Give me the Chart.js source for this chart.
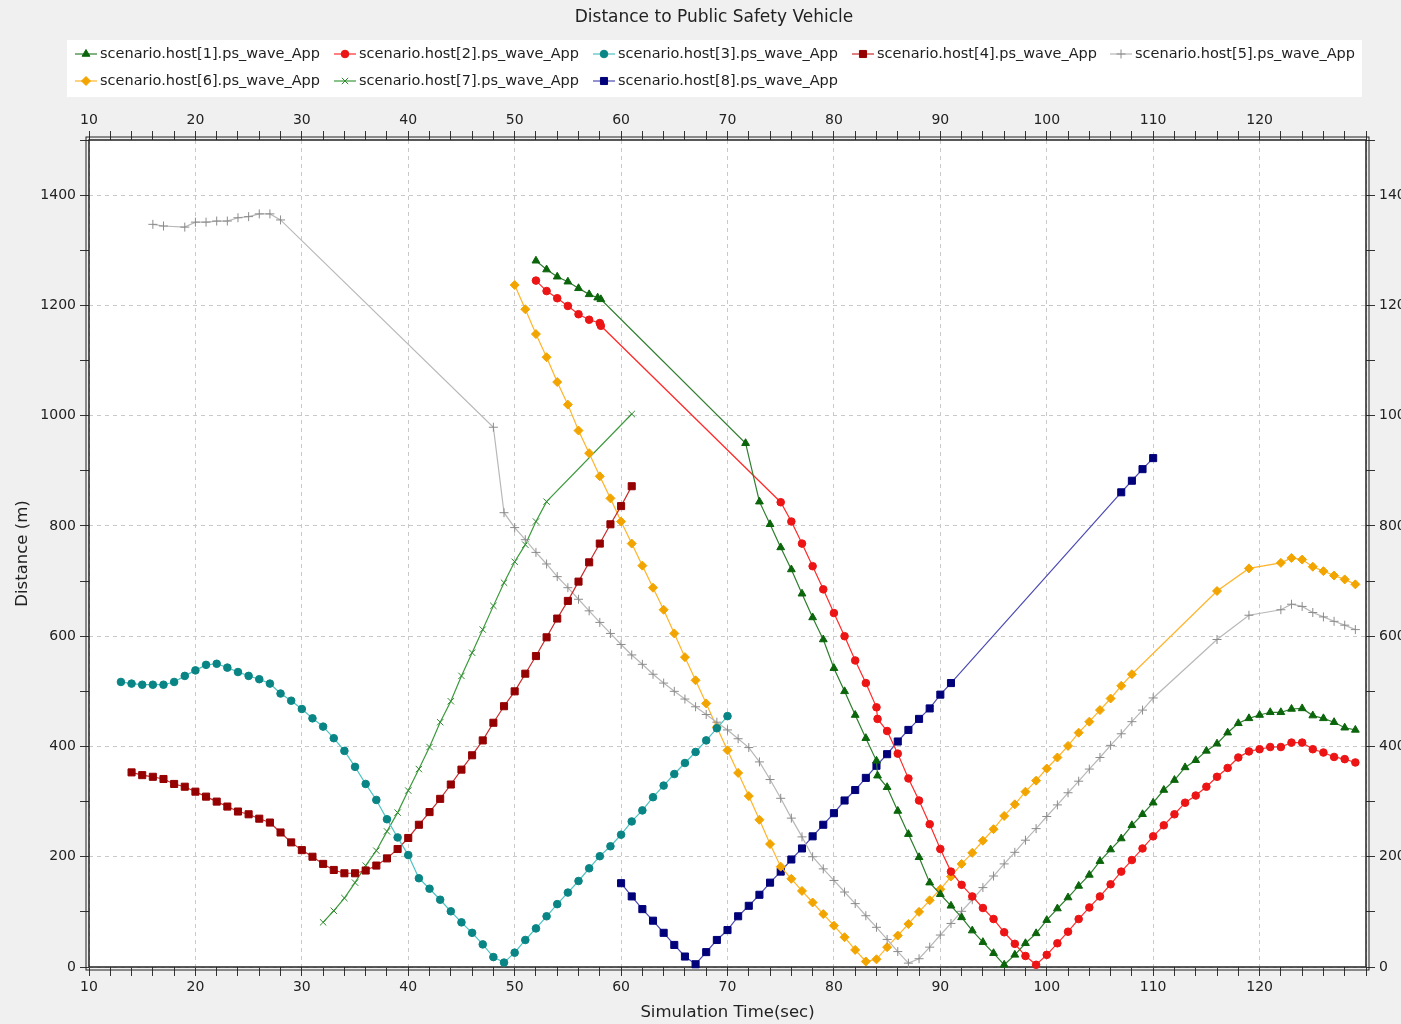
<!DOCTYPE html>
<html>
<head>
<meta charset="utf-8" />
<title>Distance to Public Safety Vehicle</title>
<script src="https://cdn.jsdelivr.net/npm/chart.js@4.4.0/dist/chart.umd.min.js"></script>
<style>
    html, body { margin: 0; padding: 0; background: #f0f0f0; }
    #wrap { width: 1401px; height: 1024px; position: relative; }
</style>
</head>
<body>
<div id="wrap"><canvas id="distChart"></canvas></div>
<script>
// time (s) and distance (m) per host
const host1T = [52,53,54,55,56,57,57.8,58.1,71.7,73,74,75,76,77,78,79,80,81,82,83,84,84.1,85,86,87,88,89,90,91,92,93,94,95,96,97,98,99,100,101,102,103,104,105,106,107,108,109,110,111,112,113,114,115,116,117,118,119,120,121,122,123,124,125,126,127,128,129];
const host1D = [1281,1265,1252,1243,1231,1220,1214,1211,950,844,803,761,721,677,634,594,542,500,457,415,374,347,326,283,241,199,153,132,111,90,66,45,25,4,22,43,61,85,106,126,147,167,192,213,233,257,277,298,321,339,362,375,392,405,425,442,451,457,462,462,468,469,456,451,444,434,430];

const host2T = [52,53,54,55,56,57,58,58.1,75,76,77,78,79,80,81,82,83,84,84.1,85,86,87,88,89,90,91,92,93,94,95,96,97,98,99,100,101,102,103,104,105,106,107,108,109,110,111,112,113,114,115,116,117,118,119,120,121,122,123,124,125,126,127,128,129];
const host2D = [1245,1226,1213,1199,1184,1174,1168,1163,843,808,768,727,685,642,600,556,515,471,450,428,387,342,302,259,214,173,149,128,107,87,63,42,20,4,22,43,64,87,108,128,150,173,194,215,237,257,277,298,311,327,345,361,380,391,395,399,399,407,407,395,389,381,377,371];

const host3T = [13,14,15,16,17,18,19,20,21,22,23,24,25,26,27,28,29,30,31,32,33,34,35,36,37,38,39,40,41,42,43,44,45,46,47,48,49,50,51,52,53,54,55,56,57,58,59,60,61,62,63,64,65,66,67,68,69,70];
const host3D = [517,514,512,512,512,517,528,538,548,550,543,535,528,522,514,496,483,468,451,436,415,392,363,332,303,268,235,203,161,142,122,101,81,62,41,18,8,26,49,70,92,114,135,156,179,201,219,240,264,284,308,329,350,370,390,411,433,455];

const host4T = [14,15,16,17,18,19,20,21,22,23,24,25,26,27,28,29,30,31,32,33,34,35,36,37,38,39,40,41,42,43,44,45,46,47,48,49,50,51,52,53,54,55,56,57,58,59,60,61];
const host4D = [353,348,345,341,332,327,318,309,300,291,282,277,269,262,244,226,212,200,187,176,170,170,175,184,197,214,234,258,281,305,331,358,384,411,443,473,500,532,564,598,632,664,699,734,768,803,836,872];

const host5T = [16,17,19,20,21,22,23,24,25,26,27,28,48,49,50,51,52,53,54,55,56,57,58,59,60,61,62,63,64,65,66,67,68,69,70,71,72,73,74,75,76,77,78,79,80,81,82,83,84,85,86,87,88,89,90,91,92,93,94,95,96,97,98,99,100,101,102,103,104,105,106,107,108,109,110,116,119,122,123,124,125,126,127,128,129];
const host5D = [1347,1344,1342,1351,1351,1353,1353,1359,1361,1366,1366,1355,979,824,797,775,752,731,708,688,667,646,625,605,585,566,549,531,515,500,486,472,458,444,430,414,398,372,340,306,270,236,200,178,157,136,115,93,72,50,28,7,15,36,58,79,101,122,144,165,187,208,230,251,273,294,316,337,359,380,402,423,445,466,488,594,638,648,658,654,643,635,627,620,612];

const host6T = [50,51,52,53,54,55,56,57,58,59,60,61,62,63,64,65,66,67,68,69,70,71,72,73,74,75,76,77,78,79,80,81,82,83,84,85,86,87,88,89,90,91,92,93,94,95,96,97,98,99,100,101,102,103,104,105,106,107,108,116,119,122,123,124,125,126,127,128,129];
const host6D = [1237,1193,1148,1106,1061,1020,973,932,890,850,808,768,728,688,648,605,562,520,478,435,393,352,310,267,223,182,160,138,117,96,75,54,31,10,14,36,57,78,100,121,141,164,187,207,229,250,274,295,318,338,360,380,401,425,445,466,487,510,531,682,723,733,742,739,726,718,710,703,694];

const host7T = [32,33,34,35,36,37,38,39,40,41,42,43,44,45,46,47,48,49,50,51,52,53,61];
const host7D = [81,102,125,153,184,211,246,280,320,359,399,444,482,528,570,612,655,697,735,766,808,844,1003];

const host8T = [60,61,62,63,64,65,66,67,68,69,70,71,72,73,74,75,76,77,78,79,80,81,82,83,84,85,86,87,88,89,90,91,107,108,109,110];
const host8D = [152,128,105,84,62,40,19,5,27,49,67,92,111,131,153,173,195,215,237,258,279,302,321,343,365,386,409,430,450,469,494,515,861,882,903,923];

const hostNames = ['scenario.host[1].ps_wave_App','scenario.host[2].ps_wave_App','scenario.host[3].ps_wave_App','scenario.host[4].ps_wave_App','scenario.host[5].ps_wave_App','scenario.host[6].ps_wave_App','scenario.host[7].ps_wave_App','scenario.host[8].ps_wave_App'];

const xTicksMin = 10, xTicksMax = 130;
const yTicksMin = 0, yTicksMax = 1500;

const FONT = 'DejaVu Sans';
const TEXT = '#222';

function pts(ts, ds) {
    return ts.map((t, i) => ({ x: t, y: ds[i] }));
}

function series(label, ts, ds, line, mark, style, radius) {
    return {
        label: label,
        data: pts(ts, ds),
        borderColor: line,
        borderWidth: 1.2,
        pointStyle: style,
        pointRadius: radius,
        pointBackgroundColor: mark,
        pointBorderColor: mark,
        pointBorderWidth: 1,
        tension: 0,
        fill: false,
        clip: false
    };
}

const datasets = [
    series(hostNames[0], host1T, host1D, '#2e7d2e', '#0b650b', 'triangle', 4.5),
    series(hostNames[1], host2T, host2D, '#ff2a2a', '#ec1414', 'circle', 3.8),
    series(hostNames[2], host3T, host3D, '#4cc2c2', '#0a8585', 'circle', 3.8),
    series(hostNames[3], host4T, host4D, '#c62c2c', '#950000', 'rect', 5),
    series(hostNames[4], host5T, host5D, '#b8b8b8', '#8c8c8c', 'cross', 4.5),
    series(hostNames[5], host6T, host6D, '#ffb42a', '#f2a500', 'rectRot', 4.5),
    series(hostNames[6], host7T, host7D, '#3c9a3c', '#2f8a2f', 'crossRot', 4.5),
    series(hostNames[7], host8T, host8D, '#4a4ab4', '#00007a', 'rect', 5)
];

function majorX(c) { return c.tick && c.tick.value % 10 === 0; }
function majorY(c) { return c.tick && c.tick.value % 200 === 0; }

function xScale(pos, height, onArea) {
    return {
        type: 'linear',
        position: pos,
        min: xTicksMin,
        max: xTicksMax,
        ticks: {
            stepSize: 2, autoSkip: false, maxRotation: 0,
            padding: pos === 'top' ? 2 : 3,
            color: TEXT, font: { family: FONT, size: 14 },
            callback: v => (v % 10 === 0 && v < xTicksMax ? v : '')
        },
        grid: {
            drawOnChartArea: onArea,
            color: c => (majorX(c) ? '#c9c9c9' : 'rgba(0,0,0,0)'),
            tickColor: '#333', tickLength: 9, lineWidth: 1
        },
        border: { display: false, dash: [4, 4] },
        afterFit: s => { s.height = height; }
    };
}

function yScale(pos, width, onArea) {
    return {
        type: 'linear',
        position: pos,
        min: yTicksMin,
        max: yTicksMax,
        ticks: {
            stepSize: 100, autoSkip: false,
            padding: 4,
            color: TEXT, font: { family: FONT, size: 14 },
            callback: v => (v % 200 === 0 ? v : '')
        },
        grid: {
            drawOnChartArea: onArea,
            color: c => (majorY(c) ? '#c9c9c9' : 'rgba(0,0,0,0)'),
            tickColor: '#333', tickLength: 9, lineWidth: 1
        },
        border: { display: false, dash: [4, 4] },
        afterFit: s => { s.width = width; }
    };
}

const frame = {
    id: 'frame',
    beforeDraw(chart) {
        const { ctx, chartArea: a } = chart;
        ctx.save();
        ctx.fillStyle = '#ffffff';
        ctx.fillRect(a.left, a.top, a.right - a.left, a.bottom - a.top);
        ctx.restore();
    },
    beforeDatasetsDraw(chart) {
        const { ctx, chartArea: a } = chart;
        ctx.save();
        ctx.strokeStyle = '#222';
        ctx.lineWidth = 1.5;
        ctx.strokeRect(a.left, a.top, a.right - a.left, a.bottom - a.top);
        ctx.lineWidth = 1;
        ctx.strokeRect(a.left - 3, a.top - 3, a.right - a.left + 6, a.bottom - a.top + 6);
        ctx.restore();
    },
    afterDraw(chart) {
        const ctx = chart.ctx;
        ctx.save();
        // title
        ctx.fillStyle = TEXT;
        ctx.font = '17px "' + FONT + '"';
        ctx.textAlign = 'center';
        ctx.textBaseline = 'middle';
        ctx.fillText('Distance to Public Safety Vehicle', 714, 18);
        // legend box
        ctx.fillStyle = '#ffffff';
        ctx.fillRect(67, 40, 1295, 57);
        const cols = [75, 334, 593, 852, 1110];
        ctx.font = '14.5px "' + FONT + '"';
        ctx.textAlign = 'left';
        chart.data.datasets.forEach((ds, i) => {
            const x = cols[i % 5];
            const y = i < 5 ? 54 : 81;
            ctx.strokeStyle = ds.borderColor;
            ctx.lineWidth = 1.2;
            ctx.beginPath();
            ctx.moveTo(x, y);
            ctx.lineTo(x + 22, y);
            ctx.stroke();
            ctx.fillStyle = ds.pointBackgroundColor;
            ctx.strokeStyle = ds.pointBorderColor;
            ctx.lineWidth = 1;
            Chart.helpers.drawPoint(ctx, { pointStyle: ds.pointStyle, radius: ds.pointRadius, rotation: 0, borderWidth: 1 }, x + 11, y);
            ctx.fillStyle = TEXT;
            ctx.fillText(ds.label, x + 25, y);
        });
        ctx.restore();
    }
};

const xBottom = xScale('bottom', 57, true);
xBottom.title = { display: true, text: 'Simulation Time(sec)', color: TEXT, font: { family: FONT, size: 16.5 }, padding: { top: 2, bottom: 1 } };
const yLeft = yScale('left', 89, true);
yLeft.title = { display: true, text: 'Distance (m)', color: TEXT, font: { family: FONT, size: 16.5 }, padding: { top: 13, bottom: 0 } };

new Chart(document.getElementById('distChart'), {
    type: 'line',
    data: { datasets: datasets },
    options: {
        responsive: true,
        maintainAspectRatio: false,
        animation: false,
        layout: { padding: 0 },
        plugins: { legend: { display: false }, title: { display: false }, tooltip: { enabled: false } },
        scales: {
            x: xBottom,
            x2: xScale('top', 140, false),
            y: yLeft,
            y2: yScale('right', 35, false)
        }
    },
    plugins: [frame]
});
</script>
</body>
</html>
